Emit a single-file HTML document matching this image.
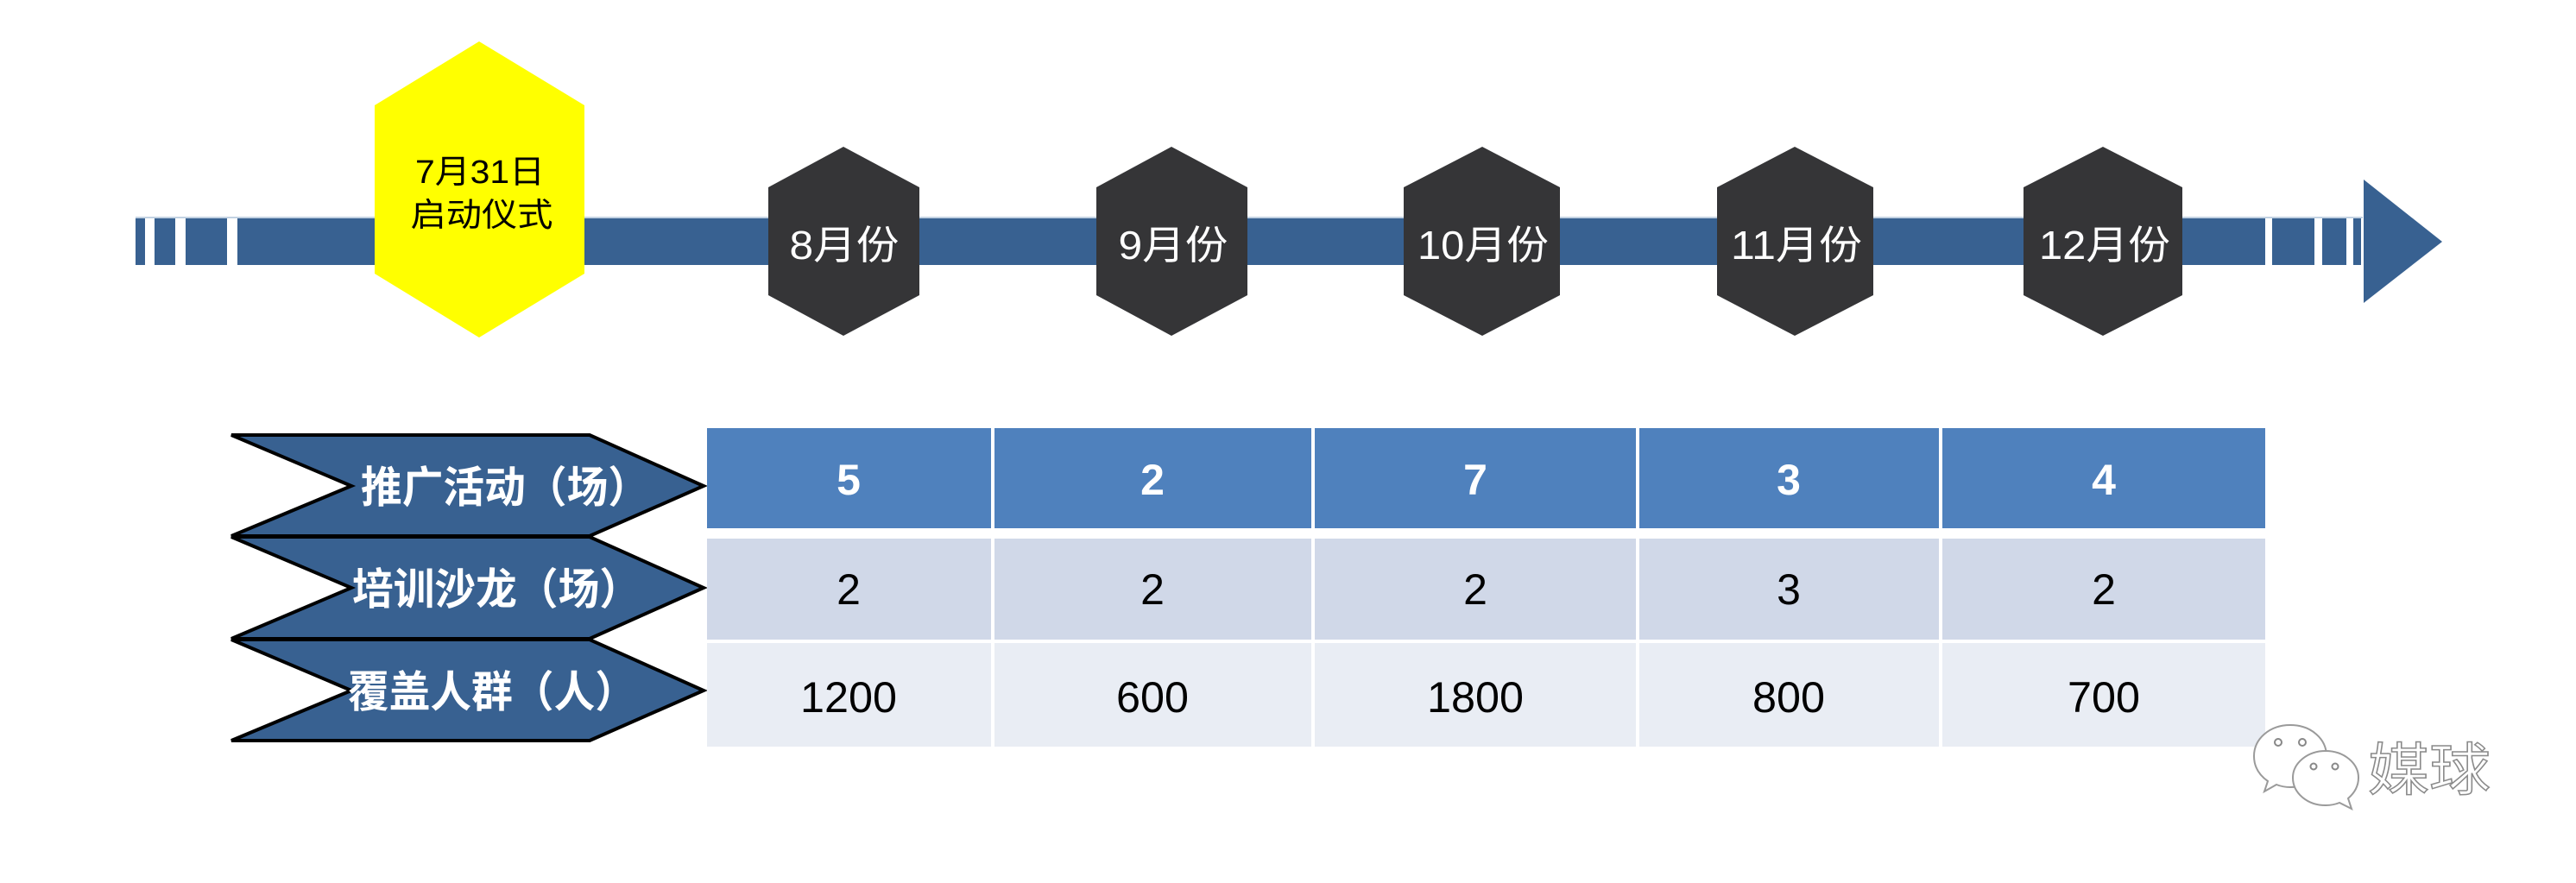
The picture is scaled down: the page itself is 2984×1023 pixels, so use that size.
<!DOCTYPE html>
<html><head><meta charset="utf-8"><style>
html,body{margin:0;padding:0;background:#fff;}
svg{display:block;}
text{font-family:"Liberation Sans","Noto Sans CJK SC",sans-serif;}
</style></head><body>
<svg width="2984" height="1023" viewBox="0 0 2984 1023" xmlns="http://www.w3.org/2000/svg">
<!-- timeline bar -->
<g fill="#386191">
<rect x="157" y="253" width="11" height="54"/>
<rect x="179" y="253" width="24" height="54"/>
<rect x="215" y="253" width="48" height="54"/>
<rect x="275" y="253" width="2349" height="54"/>
<rect x="2632" y="253" width="49" height="54"/>
<rect x="2690" y="253" width="28" height="54"/>
<rect x="2726" y="253" width="9" height="54"/>
<polygon points="2738,208 2829,280 2738,351"/>
</g>
<rect x="157" y="251" width="2580" height="2" fill="#9ab4cf" opacity="0.6"/>
<!-- yellow hex -->
<polygon points="555,48 677,122 677,317 555,391 434,317 434,122" fill="#ffff00"/>
<text x="556" y="212" font-size="38" text-anchor="middle" fill="#000" textLength="150" lengthAdjust="spacingAndGlyphs">7月31日</text>
<text x="558" y="262" font-size="38" text-anchor="middle" fill="#000" textLength="165" lengthAdjust="spacingAndGlyphs">启动仪式</text>
<!-- dark hexes -->
<g fill="#353537">
<polygon points="977,170 1065,217 1065,342 977,389 890,342 890,217"/>
<polygon points="1357,170 1445,217 1445,342 1357,389 1270,342 1270,217"/>
<polygon points="1717,170 1807,217 1807,342 1717,389 1626,342 1626,217"/>
<polygon points="2079,170 2170,217 2170,342 2079,389 1989,342 1989,217"/>
<polygon points="2436,170 2528,217 2528,342 2436,389 2344,342 2344,217"/>
</g>
<g fill="#fff" font-size="46" text-anchor="middle">
<text x="978" y="300" textLength="127" lengthAdjust="spacingAndGlyphs">8月份</text>
<text x="1359" y="300" textLength="127" lengthAdjust="spacingAndGlyphs">9月份</text>
<text x="1718" y="300" textLength="152" lengthAdjust="spacingAndGlyphs">10月份</text>
<text x="2081" y="300" textLength="152" lengthAdjust="spacingAndGlyphs">11月份</text>
<text x="2438" y="300" textLength="152" lengthAdjust="spacingAndGlyphs">12月份</text>
</g>
<!-- chevrons -->
<g fill="#386191" stroke="#000" stroke-width="4" stroke-linejoin="miter">
<polygon points="268,504 683,504 815,563 683,621 268,621 407,563"/>
<polygon points="268,622 683,622 815,681 683,740 268,740 407,681"/>
<polygon points="268,741 683,741 815,800 683,858 268,858 407,800"/>
</g>
<g fill="#fff" font-size="50" font-weight="bold" text-anchor="middle">
<text x="585" y="582" textLength="334" lengthAdjust="spacingAndGlyphs">推广活动（场）</text>
<text x="575" y="700" textLength="334" lengthAdjust="spacingAndGlyphs">培训沙龙（场）</text>
<text x="570" y="819" textLength="334" lengthAdjust="spacingAndGlyphs">覆盖人群（人）</text>
</g>
<!-- table -->
<g fill="#4f81bd">
<rect x="819" y="496" width="329" height="116"/>
<rect x="1152" y="496" width="367" height="116"/>
<rect x="1523" y="496" width="372" height="116"/>
<rect x="1899" y="496" width="347" height="116"/>
<rect x="2250" y="496" width="374" height="116"/>
</g>
<g fill="#d0d8e8">
<rect x="819" y="624" width="329" height="117"/>
<rect x="1152" y="624" width="367" height="117"/>
<rect x="1523" y="624" width="372" height="117"/>
<rect x="1899" y="624" width="347" height="117"/>
<rect x="2250" y="624" width="374" height="117"/>
</g>
<g fill="#e9edf4">
<rect x="819" y="745" width="329" height="120"/>
<rect x="1152" y="745" width="367" height="120"/>
<rect x="1523" y="745" width="372" height="120"/>
<rect x="1899" y="745" width="347" height="120"/>
<rect x="2250" y="745" width="374" height="120"/>
</g>
<g font-size="50" text-anchor="middle">
<g fill="#fff" font-weight="bold">
<text x="983" y="573">5</text><text x="1335" y="573">2</text><text x="1709" y="573">7</text><text x="2072" y="573">3</text><text x="2437" y="573">4</text>
</g>
<g fill="#000">
<text x="983" y="700">2</text><text x="1335" y="700">2</text><text x="1709" y="700">2</text><text x="2072" y="700">3</text><text x="2437" y="700">2</text>
<text x="983" y="825" textLength="112" lengthAdjust="spacingAndGlyphs">1200</text>
<text x="1335" y="825" textLength="84" lengthAdjust="spacingAndGlyphs">600</text>
<text x="1709" y="825" textLength="112" lengthAdjust="spacingAndGlyphs">1800</text>
<text x="2072" y="825" textLength="84" lengthAdjust="spacingAndGlyphs">800</text>
<text x="2437" y="825" textLength="84" lengthAdjust="spacingAndGlyphs">700</text>
</g>
</g>
<!-- watermark -->
<g fill="#fff" stroke="#9a9a9a" stroke-width="2">
<path d="M2653,840 c24,0 42,16 42,36 c0,20 -18,36 -42,36 c-6,0 -11,-1 -16,-3 l-14,8 l4,-12 c-10,-7 -16,-17 -16,-29 c0,-20 18,-36 42,-36z"/>
<path d="M2694,870 c21,0 38,14 38,31 c0,10 -5,18 -12,24 l4,12 l-14,-7 c-5,2 -10,3 -16,3 c-21,0 -38,-14 -38,-32 c0,-17 17,-31 38,-31z"/>
</g>
<g fill="#fff" stroke="#888" stroke-width="2">
<circle cx="2639" cy="860" r="4"/><circle cx="2667" cy="860" r="4"/>
<circle cx="2680" cy="888" r="3.5"/><circle cx="2705" cy="888" r="3.5"/>
</g>
<text x="2743" y="915" font-size="66" fill="#fff" stroke="#8a8a8a" stroke-width="1.5" textLength="142" lengthAdjust="spacingAndGlyphs">媒球</text>
</svg>
</body></html>
